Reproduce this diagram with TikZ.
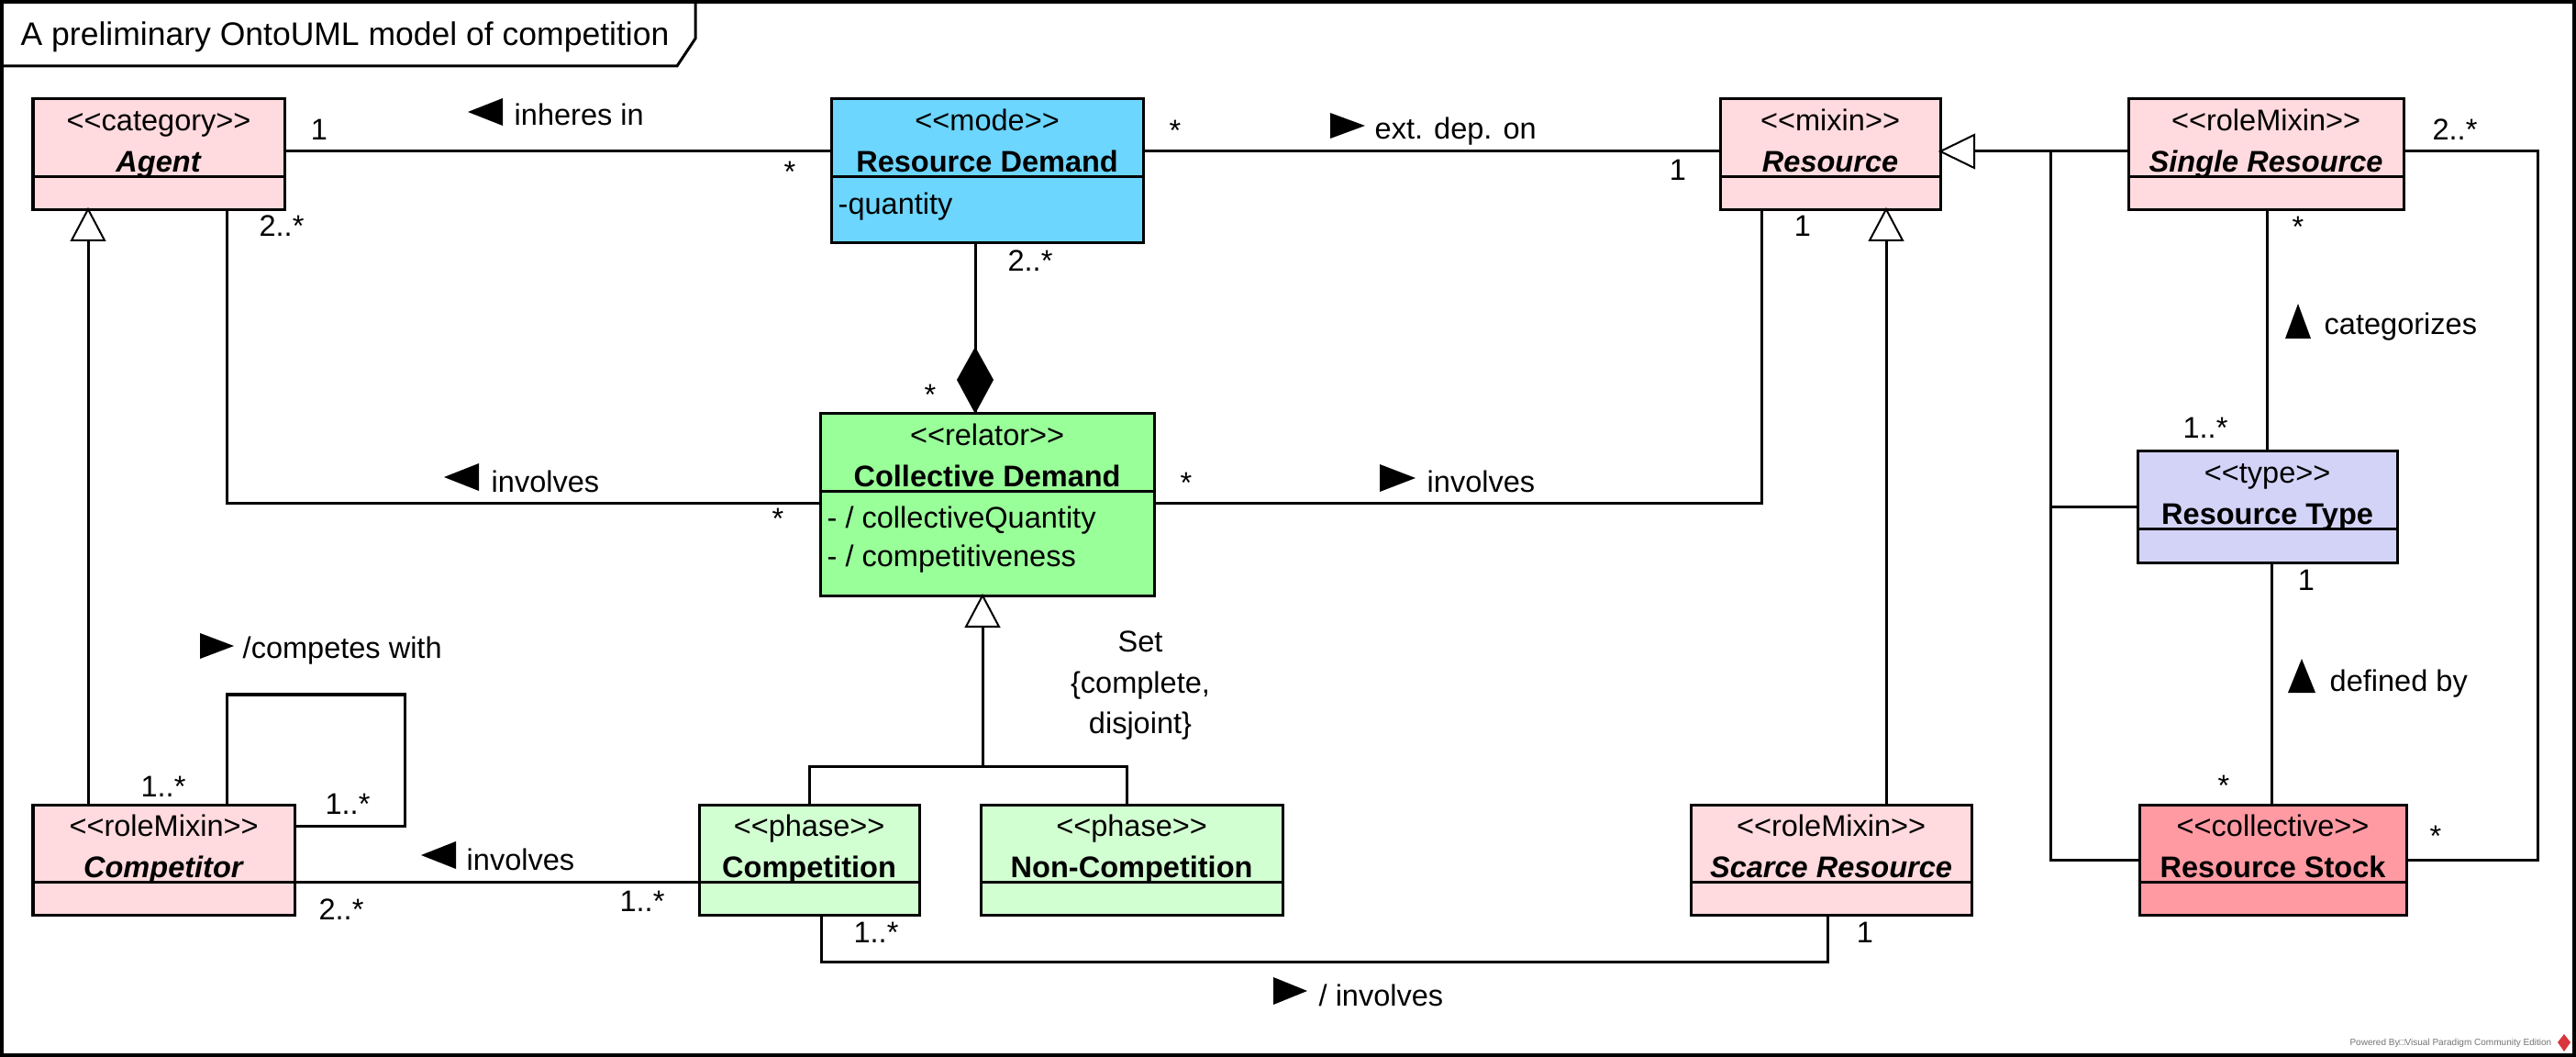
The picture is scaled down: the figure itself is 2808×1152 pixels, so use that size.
\documentclass[tikz,border=0pt]{standalone}
\usepackage{fontspec}
\setmainfont{Liberation Sans}
\usetikzlibrary{calc}
\definecolor{pinkL}{HTML}{FFDADE}
\definecolor{pinkD}{HTML}{FF9AA3}
\definecolor{modeBlue}{HTML}{6CD6FF}
\definecolor{relGreen}{HTML}{99FF99}
\definecolor{phaseGreen}{HTML}{D2FFD2}
\definecolor{typeLav}{HTML}{D3D3F8}
\definecolor{vpRed}{HTML}{D9363E}
\newcommand\umlbox[8]{%
  \node[cls, fill=#6, minimum width=#4, minimum height=#5] (#1) at (#2,#3) {};
  \draw[lw] ([yshift=-0.84cm]#1.north west) -- ([yshift=-0.84cm]#1.north east);
  \node[txt] at ([yshift=-0.345cm]#1.north) {<{}<#7>{}>};
  \node[txt] at ([yshift=-0.795cm]#1.north) {#8};}
\begin{document}
\begin{tikzpicture}[x=0.01cm,y=-0.01cm,
  lw/.style={line width=0.03cm},
  cls/.style={draw, line width=0.03cm, anchor=north west, inner sep=0pt, outer sep=0pt},
  txt/.style={font=\fontsize{9.25pt}{11pt}\selectfont, inner sep=0pt, anchor=base},
  lbl/.style={font=\fontsize{9.25pt}{11pt}\selectfont, inner sep=0pt, anchor=base west},
  gen/.style={draw, fill=white, line width=0.02cm, line join=miter},
  tri/.style={fill=black}]
\useasboundingbox (0,0) rectangle (2808,1152);
% frame
\draw[line width=0.035cm] (2,2) rectangle (2806,1150);
\draw[line width=0.03cm] (2,72) -- (738,72) -- (758,42) -- (758,2);
\node[anchor=base west, inner sep=0pt, font=\fontsize{10.1pt}{12pt}\selectfont] (title) at (22,50) {A preliminary OntoUML model of competition};
% classes
\umlbox{agent}{36}{108}{2.74cm}{1.20cm}{pinkL}{category}{\textbf{\textit{Agent}}}
\umlbox{rd}{906}{108}{3.40cm}{1.56cm}{modeBlue}{mode}{\textbf{Resource Demand}}
\node[lbl] at ([xshift=0.07cm,yshift=-1.25cm]rd.north west) {-quantity};
\umlbox{res}{1875}{108}{2.40cm}{1.20cm}{pinkL}{mixin}{\textbf{\textit{Resource}}}
\umlbox{sr}{2320}{108}{3.00cm}{1.20cm}{pinkL}{roleMixin}{\textbf{\textit{Single Resource}}}
\umlbox{cd}{894}{451}{3.64cm}{1.98cm}{relGreen}{relator}{\textbf{Collective Demand}}
\node[lbl] at ([xshift=0.07cm,yshift=-1.24cm]cd.north west) {- / collectiveQuantity};
\node[lbl] at ([xshift=0.07cm,yshift=-1.66cm]cd.north west) {- / competitiveness};
\umlbox{rt}{2330}{492}{2.83cm}{1.21cm}{typeLav}{type}{\textbf{Resource Type}}
\umlbox{competitor}{36}{877}{2.85cm}{1.20cm}{pinkL}{roleMixin}{\textbf{\textit{Competitor}}}
\umlbox{comp}{762}{877}{2.40cm}{1.20cm}{phaseGreen}{phase}{\textbf{Competition}}
\umlbox{noncomp}{1069}{877}{3.29cm}{1.20cm}{phaseGreen}{phase}{\textbf{Non-Competition}}
\umlbox{scarce}{1843}{877}{3.06cm}{1.20cm}{pinkL}{roleMixin}{\textbf{\textit{Scarce Resource}}}
\umlbox{rs}{2332}{877}{2.91cm}{1.20cm}{pinkD}{collective}{\textbf{Resource Stock}}
% connectors
\draw[lw] (agent.east |- 0,165) -- (rd.west |- 0,165);
\draw[lw] (rd.east |- 0,165) -- (res.west |- 0,165);
\draw[lw] (rd.south -| 1063,0) -- (cd.north -| 1063,0);
\fill (cd.north -| 1063,0) -- (1083,414) -- (1063,378) -- (1043,414) -- cycle;
\draw[lw] (agent.south -| 247,0) |- (cd.west |- 0,549);
\draw[lw] (cd.east |- 0,549) -| (res.south -| 1920,0);
\draw[lw] (cd.south -| 1071,0) -- (1071,835);
\draw[lw] (comp.north) |- (1071,835) -| (noncomp.north -| 1228,0);
\draw[gen] (cd.south -| 1071,0) -- (1089,683) -- (1053,683) -- cycle;
\draw[lw] (competitor.north -| 96,0) -- (agent.south -| 96,0);
\draw[gen] (agent.south -| 96,0) -- (114,262) -- (78,262) -- cycle;
\draw[lw] (competitor.north -| 247,0) |- (441,757) |- (competitor.east |- 0,900);
\draw[lw] (competitor.east |- 0,961) -- (comp.west |- 0,961);
\draw[lw] (comp.south -| 895,0) |- (1992,1048) -- (scarce.south -| 1992,0);
\draw[lw] (scarce.north -| 2056,0) -- (res.south -| 2056,0);
\draw[gen] (res.south -| 2056,0) -- (2074,262) -- (2038,262) -- cycle;
\draw[lw] (res.east |- 0,165) -- (sr.west |- 0,165);
\draw[lw] (2235,165) |- (rs.west |- 0,937);
\draw[lw] (2235,553) -- (rt.west |- 0,553);
\draw[gen] (res.east |- 0,165) -- (2152,147) -- (2152,183) -- cycle;
\draw[lw] (sr.south -| 2471,0) -- (rt.north -| 2471,0);
\draw[lw] (rt.south -| 2476,0) -- (rs.north -| 2476,0);
\draw[lw] (sr.east |- 0,165) -| (2766,937) -- (rs.east |- 0,937);
% association names
\fill[tri] (510,122) -- (548,107) -- (548,137) -- cycle;
\node[lbl] (n1) at (560,137) {inheres in};
\fill[tri] (1488,137) -- (1450,123) -- (1450,151) -- cycle;
\node[lbl] (n2) at (1498,152) {ext. dep. on};
\fill[tri] (484,520) -- (522,505) -- (522,535) -- cycle;
\node[lbl] (n3) at (535,537) {involves};
\fill[tri] (1543,521) -- (1504,506) -- (1504,536) -- cycle;
\node[lbl] (n4) at (1555,537) {involves};
\fill[tri] (255,704) -- (218,690) -- (218,718) -- cycle;
\node[lbl] (n5) at (264,718) {/competes with};
\fill[tri] (459,932) -- (497,917) -- (497,947) -- cycle;
\node[lbl] (n6) at (508,948) {involves};
\fill[tri] (1425,1080) -- (1388,1065) -- (1388,1095) -- cycle;
\node[lbl] (n7) at (1437,1096) {/ involves};
\fill[tri] (2505,331) -- (2491,369) -- (2519,369) -- cycle;
\node[lbl] (n8) at (2533,365) {categorizes};
\fill[tri] (2509,718) -- (2494,755) -- (2524,755) -- cycle;
\node[lbl] (n9) at (2539,753) {defined by};
% generalization set
\node[txt] (gs1) at (1243,711) {Set};
\node[txt] (gs2) at (1243,755) {\{complete,};
\node[txt] (gs3) at (1243,799) {disjoint\}};
% multiplicities
\node[txt] (m1) at (348,153) {1};
\node[txt] (m2) at (861,199) {*};
\node[txt] (m3) at (1281,154) {*};
\node[txt] (m4) at (1829,197) {1};
\node[txt] (m5) at (1123,296) {2..*};
\node[txt] (m6) at (1014,442) {*};
\node[txt] (m7) at (307,258) {2..*};
\node[txt] (m8) at (848,577) {*};
\node[txt] (m9) at (1293,538) {*};
\node[txt] (m10) at (1965,258) {1};
\node[txt] (m11) at (2676,153) {2..*};
\node[txt] (m12) at (2505,259) {*};
\node[txt] (m13) at (2404,478) {1..*};
\node[txt] (m14) at (2514,644) {1};
\node[txt] (m15) at (2424,867) {*};
\node[txt] (m16) at (2655,922) {*};
\node[txt] (m17) at (178,868) {1..*};
\node[txt] (m18) at (379,887) {1..*};
\node[txt] (m19) at (372,1002) {2..*};
\node[txt] (m20) at (700,993) {1..*};
\node[txt] (m21) at (955,1027) {1..*};
\node[txt] (m22) at (2033,1027) {1};
% watermark
\node[anchor=base east, inner sep=0pt, text=black!55, font=\fontsize{2.85pt}{3.4pt}\selectfont] (wm) at (2782,1139) {Powered By□Visual Paradigm Community Edition};
\fill[vpRed] (2795,1127) -- (2802,1136) -- (2795,1146) -- (2788,1136) -- cycle;
\end{tikzpicture}
\end{document}
